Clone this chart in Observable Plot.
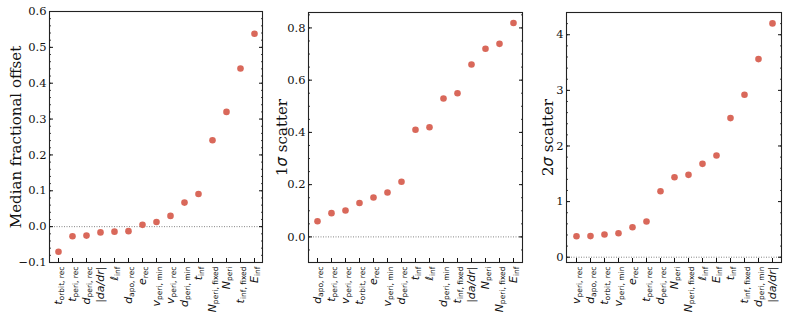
<!DOCTYPE html>
<html><head><meta charset="utf-8">
<script src="https://cdn.jsdelivr.net/npm/d3@7"></script>
<script src="https://cdn.jsdelivr.net/npm/@observablehq/plot@0.6"></script>
<style>
body{margin:0;background:#fff}
#c{position:relative;width:789px;height:316px;overflow:hidden}
.p{position:absolute;top:0}
</style>
</head><body><div id="c"></div>
<script>
// label parts: key -> [main (italic), subscript]
const labelParts = {
  "t_orbit,rec": ["t", "orbit, rec"],
  "t_peri,rec": ["t", "peri, rec"],
  "d_peri,rec": ["d", "peri, rec"],
  "|da/dr|": ["|da/dr|", ""],
  "l_inf": ["ℓ", "inf"],
  "d_apo,rec": ["d", "apo, rec"],
  "e_rec": ["e", "rec"],
  "v_peri,min": ["v", "peri, min"],
  "v_peri,rec": ["v", "peri, rec"],
  "d_peri,min": ["d", "peri, min"],
  "t_inf": ["t", "inf"],
  "N_peri,fixed": ["N", "peri, fixed"],
  "N_peri": ["N", "peri"],
  "t_inf,fixed": ["t", "inf, fixed"],
  "E_inf": ["E", "inf"]
};

const cats1 = ["t_orbit,rec","t_peri,rec","d_peri,rec","|da/dr|","l_inf","d_apo,rec","e_rec","v_peri,min","v_peri,rec","d_peri,min","t_inf","N_peri,fixed","N_peri","t_inf,fixed","E_inf"];
const vals1 = [-0.070,-0.027,-0.025,-0.016,-0.014,-0.0125,0.005,0.013,0.030,0.067,0.091,0.241,0.320,0.441,0.538];

const cats2 = ["d_apo,rec","t_peri,rec","v_peri,rec","t_orbit,rec","e_rec","v_peri,min","d_peri,rec","t_inf","l_inf","d_peri,min","t_inf,fixed","|da/dr|","N_peri","N_peri,fixed","E_inf"];
const vals2 = [0.060,0.091,0.101,0.130,0.151,0.170,0.211,0.410,0.420,0.530,0.550,0.660,0.720,0.739,0.819];

const cats3 = ["v_peri,rec","d_apo,rec","t_orbit,rec","v_peri,min","e_rec","t_peri,rec","d_peri,rec","N_peri","N_peri,fixed","l_inf","E_inf","t_inf","t_inf,fixed","d_peri,min","|da/dr|"];
const vals3 = [0.378,0.380,0.408,0.432,0.540,0.642,1.187,1.439,1.481,1.679,1.829,2.501,2.921,3.562,4.204];

const ticks1 = [-0.1,0.0,0.1,0.2,0.3,0.4,0.5,0.6];
const ticks2 = [0.0,0.2,0.4,0.6,0.8];
const ticks3 = [0,1,2,3,4];

const titles = [["", "Median fractional offset"], ["1", "σ scatter"], ["2", "σ scatter"]];

const minus = s => s.replace("-", "\u2212");

function panel(o) {
  const data = o.cats.map((c, i) => ({c, v: o.vals[i]}));
  const chart = Plot.plot({
    width: o.width, height: 316,
    marginLeft: o.ml, marginRight: o.mr, marginTop: o.mt, marginBottom: 316 - 262,
    x: {type: "point", domain: o.cats, padding: 0.5, axis: null},
    y: {domain: o.domain, axis: null},
    style: {background: "transparent", overflow: "visible", color: "#111"},
    marks: [
      Plot.ruleY([0], {stroke: "#777", strokeWidth: 0.9, strokeDasharray: "1,1.5"}),
      Plot.axisY(o.minors, {anchor: "left", tickSize: -2, fill: "none", label: null, strokeWidth: 0.8}),
      Plot.axisY(o.minors, {anchor: "right", tickSize: -2, fill: "none", label: null, strokeWidth: 0.8}),
      Plot.axisY(o.majors, {anchor: "left", tickSize: -4, fill: "none", label: null}),
      Plot.axisY(o.majors, {anchor: "right", tickSize: -4, fill: "none", label: null}),
      Plot.axisY(o.majors, {anchor: "left", tickSize: 0, tickPadding: 3, tickFormat: o.fmt, fontSize: 11.5, fontFamily: "DejaVu Serif", label: null}),
      Plot.axisX({anchor: "bottom", tickSize: -4, fill: "none", label: null}),
      Plot.axisX({anchor: "bottom", tickSize: 0, tickPadding: 4, tickRotate: -90, label: null, fontFamily: "DejaVu Sans"}),
      Plot.dot(data, {x: "c", y: "v", r: 3.3, fill: "#d9685a"}),
      Plot.frame({stroke: "#222", strokeWidth: 1.1}),
      Plot.text([o.title[0] + o.title[1]], {frameAnchor: "left", textAnchor: "middle", rotate: -90, dx: o.dx, fontSize: 15, fontFamily: "DejaVu Serif", fill: "#111"})
    ]
  });
  // rebuild x tick labels with italic main symbol + subscript
  chart.querySelectorAll('[aria-label="x-axis tick label"] text').forEach(t => {
    const key = t.textContent;
    const [main, sub] = labelParts[key] || [key, ""];
    t.textContent = "";
    const a = document.createElementNS("http://www.w3.org/2000/svg", "tspan");
    a.setAttribute("font-style", "italic");
    a.setAttribute("font-size", "11");
    a.textContent = main;
    t.appendChild(a);
    if (sub) {
      const b = document.createElementNS("http://www.w3.org/2000/svg", "tspan");
      b.setAttribute("font-size", "7.5");
      b.setAttribute("dy", "0.3em");
      b.textContent = sub;
      t.appendChild(b);
    }
  });
  // italic sigma in titles
  chart.querySelectorAll('[aria-label="text"] text').forEach(t => {
    if (o.title[0] !== "" && t.textContent === o.title[0] + o.title[1]) {
      t.textContent = "";
      const a = document.createElementNS("http://www.w3.org/2000/svg", "tspan");
      a.textContent = o.title[0];
      const s = document.createElementNS("http://www.w3.org/2000/svg", "tspan");
      s.setAttribute("font-style", "italic");
      s.setAttribute("font-family", "DejaVu Sans");
      s.textContent = "σ";
      const r = document.createElementNS("http://www.w3.org/2000/svg", "tspan");
      r.textContent = o.title[1].slice(1);
      t.append(a, s, r);
    }
  });
  const div = document.createElement("div");
  div.className = "p";
  div.style.left = o.left + "px";
  div.appendChild(chart);
  document.getElementById("c").appendChild(div);
}

panel({cats: cats1, vals: vals1, domain: [-0.1, 0.6], majors: ticks1,
  minors: d3.range(-0.1, 0.601, 0.02), fmt: d => minus(d.toFixed(1)),
  title: titles[0], left: 0, width: 265, ml: 49, mr: 3, mt: 11, dx: -33});
panel({cats: cats2, vals: vals2, domain: [-0.098, 0.859], majors: ticks2,
  minors: d3.range(-0.05, 0.86, 0.05), fmt: d => d.toFixed(1),
  title: titles[1], left: 265, width: 260, ml: 43, mr: 3, mt: 12, dx: -26});
panel({cats: cats3, vals: vals3, domain: [-0.095, 4.40], majors: ticks3,
  minors: d3.range(0, 4.401, 0.2), fmt: d => d.toFixed(0),
  title: titles[2], left: 525, width: 264, ml: 41, mr: 8, mt: 12, dx: -18});
</script>
</body></html>
